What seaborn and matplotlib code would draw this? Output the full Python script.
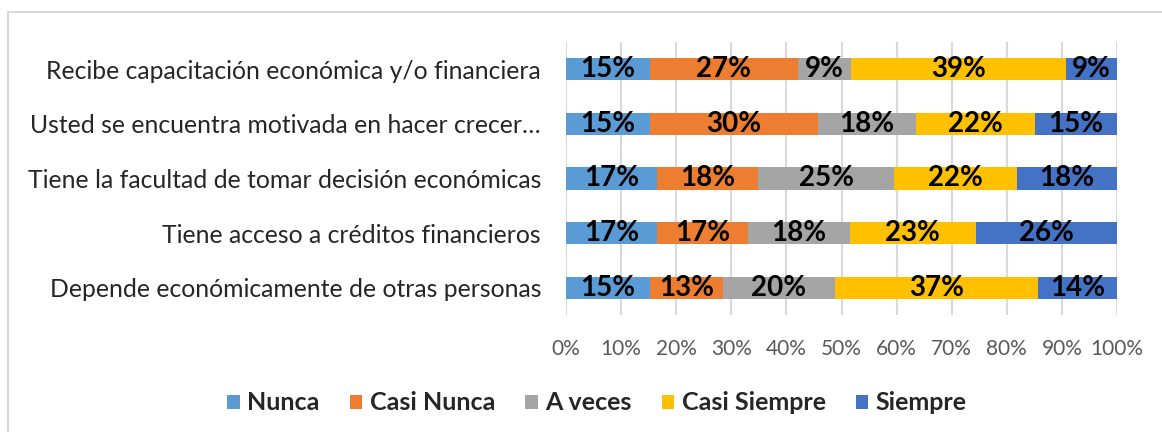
import matplotlib
matplotlib.use("Agg")
import matplotlib.pyplot as plt
import numpy as np
import pandas as pd
import seaborn as sns
from matplotlib.patches import Patch

categories = [
    "Recibe capacitación económica y/o financiera",
    "Usted se encuentra motivada en hacer crecer…",
    "Tiene la facultad de tomar decisión económicas",
    "Tiene acceso a créditos financieros",
    "Depende económicamente de otras personas",
]
series = ["Nunca", "Casi Nunca", "A veces", "Casi Siempre", "Siempre"]
nunca = [15.2, 15.2, 16.5, 16.5, 15.2]
casi_nunca = [26.9, 30.5, 18.3, 16.5, 13.2]
a_veces = [9.6, 17.8, 24.7, 18.5, 20.3]
casi_siempre = [39.0, 21.6, 22.3, 22.9, 36.8]
siempre = [9.3, 14.9, 18.1, 25.6, 14.3]
labels = [
    ["15%", "27%", "9%", "39%", "9%"],
    ["15%", "30%", "18%", "22%", "15%"],
    ["17%", "18%", "25%", "22%", "18%"],
    ["17%", "17%", "18%", "23%", "26%"],
    ["15%", "13%", "20%", "37%", "14%"],
]
colors = ["#5B9BD5", "#ED7D31", "#A5A5A5", "#FFC000", "#4472C4"]

sns.set_style("white")
plt.rcParams["font.family"] = ["Lato", "DejaVu Sans"]

df = pd.DataFrame({"cat": categories, "Nunca": nunca, "Casi Nunca": casi_nunca,
                   "A veces": a_veces, "Casi Siempre": casi_siempre, "Siempre": siempre})
vals = df[series].to_numpy()
cum = vals.cumsum(axis=1)
cum = cum / cum[:, -1:] * 100
left = np.hstack([np.zeros((len(categories), 1)), cum[:, :-1]])

fig = plt.figure(figsize=(11.62, 4.32), dpi=100)
ax = fig.add_axes([566 / 1162, 1 - 315 / 432, 551 / 1162, 273 / 432])

# stacked bars: draw cumulative totals from the widest down
for i in range(len(series) - 1, -1, -1):
    sns.barplot(x=cum[:, i], y=df["cat"], color=colors[i], orient="h",
                width=0.41, ax=ax, saturation=1, edgecolor="none")

for r in range(len(categories)):
    for i in range(len(series)):
        cx = (left[r, i] + cum[r, i]) / 2
        ax.text(cx, r, labels[r][i], ha="center", va="center",
                fontsize=20, fontweight="bold", color="black")

ax.set_xlim(0, 100)
ax.set_ylim(len(categories) - 0.5, -0.5)
ax.set_xticks(np.arange(0, 101, 10))
ax.set_xticklabels([f"{t}%" for t in range(0, 101, 10)])
ax.tick_params(axis="x", colors="#595959", labelsize=15, length=0, pad=17)
ax.tick_params(axis="y", colors="#262626", labelsize=17.8, length=0, pad=18)
ax.set_xlabel("")
ax.set_ylabel("")
ax.xaxis.grid(True, color="#D9D9D9", linewidth=1.5)
ax.set_axisbelow(True)
for s in ax.spines.values():
    s.set_visible(False)

handles = [Patch(facecolor=c, edgecolor="none") for c in colors]
fig.legend(handles, series, loc="center", bbox_to_anchor=(597 / 1162, 1 - 403 / 432),
           ncol=5, frameon=False, handlelength=0.5, handleheight=0.5,
           handletextpad=0.3, columnspacing=1.2,
           prop={"size": 18, "weight": "bold"})

fig.add_artist(plt.Line2D([8 / 1162, 8 / 1162], [0, 1 - 12 / 432],
                          transform=fig.transFigure, color="#D9D9D9", linewidth=1.5))
fig.add_artist(plt.Line2D([8 / 1162, 1], [1 - 12 / 432, 1 - 12 / 432],
                          transform=fig.transFigure, color="#D9D9D9", linewidth=1.5))

fig.savefig("out.png", dpi=100)
